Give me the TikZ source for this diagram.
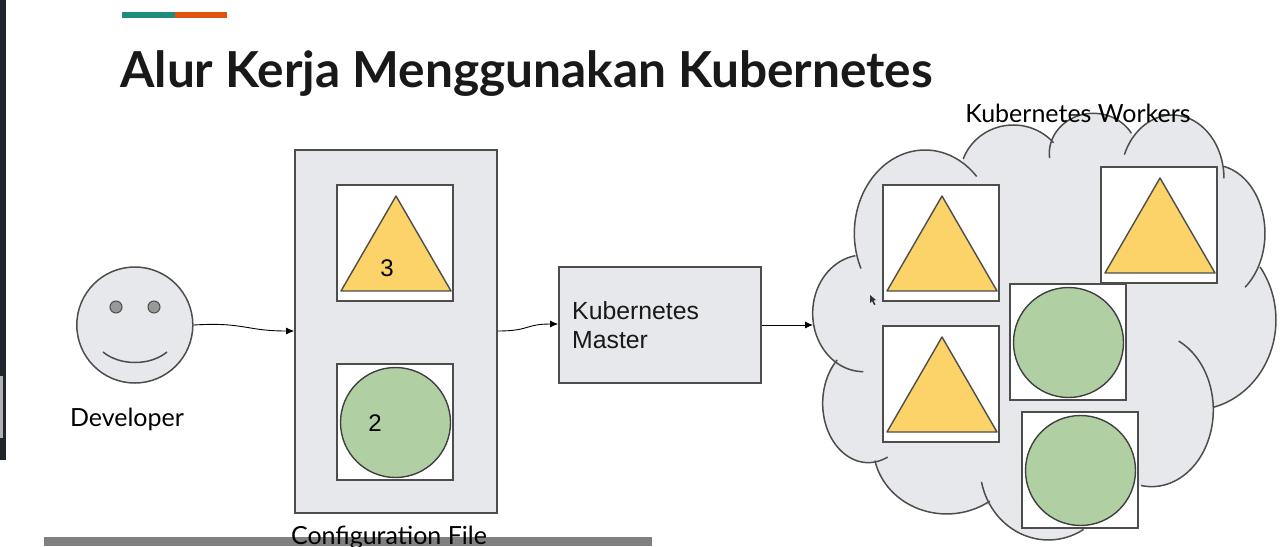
\documentclass[tikz,border=0pt]{standalone}
\usepackage{fontspec}
\setmainfont{Lato}
\newfontfamily\arialf{Liberation Sans}
\usetikzlibrary{arrows.meta}
\definecolor{panel}{HTML}{E6E8EB}
\definecolor{edge}{HTML}{4D4D4D}
\definecolor{tri}{HTML}{FBD368}
\definecolor{circ}{HTML}{B0D0A4}
\definecolor{chrome}{HTML}{22252E}
\definecolor{accentA}{HTML}{1F8C7C}
\definecolor{accentB}{HTML}{DF5510}
\tikzset{
 panelbox/.style={draw=edge,fill=panel,line width=1.6pt,inner sep=0,anchor=north west,xshift=-.8pt,yshift=.8pt},
 podbox/.style={draw=edge,fill=white,line width=1.6pt,inner sep=0,minimum width=116pt,minimum height=116pt,anchor=north west,xshift=-.8pt,yshift=.8pt},
 tricolor/.style={draw=edge,fill=tri,line width=1.4pt,line join=round},
 circcolor/.style={draw=black!75,fill=circ,line width=1.4pt},
 lobe/.style={draw=edge,line width=1.5pt},
 flow/.style={draw=black,line width=.9pt,-{Latex[length=8pt,width=7pt]}},
 lab/.style={inner sep=0,font=\fontsize{25}{29}\selectfont,text=black},
 arl/.style={inner sep=0,font=\arialf\fontsize{24.8}{29}\selectfont,text=black!90,align=left},
}
\newcommand{\podtri}[3]{%
 \node[podbox] (#3) at (#1,#2) {};
 \filldraw[tricolor] (#1+59,#2+11) -- (#1+4,#2+106) -- (#1+114,#2+106) -- cycle;}
\newcommand{\podcirc}[3]{%
 \node[podbox] (#3) at (#1,#2) {};
 \filldraw[circcolor] (#1+58.5,#2+58.5) circle (55);}
% centre x, centre y, rx, ry, start, end
\newcommand{\lobefill}[4]{\fill[panel] plot[domain=0:360,samples=72,smooth] ({#1+#3*cos(\x)},{#2-#4*sin(\x)}) -- cycle;}
\newcommand{\lobeline}[6]{\draw[lobe] plot[domain=#5:#6,samples=40,smooth] ({#1+#3*cos(\x)},{#2-#4*sin(\x)});}
\begin{document}
\begin{tikzpicture}[x=1pt,y=-1pt]
\useasboundingbox (0,0) rectangle (1284,546);
\fill[white] (0,0) rectangle (1284,546);
\fill[chrome] (0,0) rectangle (6,460);
\fill[black!30] (0,376) rectangle (3,438);
\fill[black!50] (44,537) rectangle (652,546);
\fill[accentA] (122,12) rectangle (175,18);
\fill[accentB] (175,12) rectangle (227,18);
\node[inner sep=0,anchor=base west,font=\fontsize{49.6}{54}\selectfont\bfseries,text=black!90] (title) at (120,87) {Alur Kerja Menggunakan Kubernetes};
% developer
\node[draw=edge,fill=panel,line width=1.5pt,circle,minimum size=116pt,inner sep=0] (dev) at (134.8,325) {};
\filldraw[draw=edge,fill=black!40,line width=1pt] (116,307) circle (6);
\filldraw[draw=edge,fill=black!40,line width=1pt] (154,307) circle (6);
\draw[edge,line width=1.5pt] (103,352) .. controls (120,366) and (150,366) .. (167,352);
\node[lab,anchor=base] (devl) at (127,426.5) {Developer};
% configuration
\node[panelbox,minimum width=202pt,minimum height=363pt] (conf) at (295,150) {};
\podtri{337}{185}{ca}
\node[inner sep=0,font=\arialf\fontsize{24}{28}\selectfont] (three) at (387,268) {3};
\podcirc{337}{364}{cb}
\node[inner sep=0,font=\arialf\fontsize{24}{28}\selectfont] (two) at (375,423) {2};
\node[lab,anchor=base] (confl) at (389,544) {Configuration File};
% master
\node[panelbox,minimum width=202pt,minimum height=116pt] (master) at (559,267) {};
\node[arl,anchor=west] (masterl) at (572,325.5) {Kubernetes\\Master};
% cloud
\begin{scope}[shift={(800,90)},x=.3333pt,y=-.3333pt]
\lobefill{375}{430}{212}{250}
\lobefill{640}{260}{160}{155}
\lobefill{880}{190}{132}{120}
\lobefill{1117}{265}{155}{190}
\lobefill{1240}{430}{155}{205}
\lobefill{1180}{690}{248}{270}
\lobefill{1055}{960}{185}{230}
\lobefill{745}{1130}{205}{220}
\lobefill{440}{1070}{220}{202}
\lobefill{205}{940}{137}{178}
\lobefill{190}{670}{152}{175}
\fill[panel] (170,500)--(530,220)--(1270,230)--(1380,530)--(1240,960)--(1020,1185)--(850,1318)--(545,1240)--(225,1110)--(100,830)--cycle;
\lobeline{375}{430}{212}{250}{43}{205}
\lobeline{640}{260}{160}{155}{41}{160}
\lobeline{880}{190}{132}{120}{30}{187}
\lobeline{1117}{265}{155}{190}{0}{158}
\lobeline{1240}{430}{155}{205}{-52}{78}
\lobeline{1180}{690}{248}{270}{-76}{36}
\lobeline{1055}{960}{185}{230}{-100}{64}
\lobeline{745}{1130}{205}{220}{192}{301}
\lobeline{440}{1070}{220}{202}{192}{306}
\lobeline{205}{940}{137}{178}{133}{295}
\lobeline{190}{670}{152}{175}{99}{270}
\end{scope}
\coordinate (cloudin) at (813,325);
\podtri{883}{185}{wa}
\podtri{883}{326}{wb}
\podtri{1101}{167}{wc}
\podcirc{1010}{284}{wd}
\podcirc{1022}{412}{we}
\node[lab,anchor=base] (workl) at (1078,122) {Kubernetes Workers};
% pointer
\fill[black!80] (870,295) -- (870,303) -- (872,301) -- (874,305) -- (875.5,304.5) -- (873.5,300.5) -- (876,300) -- cycle;
% connectors
\draw[flow] (dev.east) .. controls (245,322) and (245,331) .. (conf.west |- 0,331);
\draw[flow] (conf.east |- 0,331) .. controls (530,331) and (525,324) .. (master.west |- 0,324);
\draw[flow] (master.east |- 0,325) -- (cloudin);
\end{tikzpicture}
\end{document}
